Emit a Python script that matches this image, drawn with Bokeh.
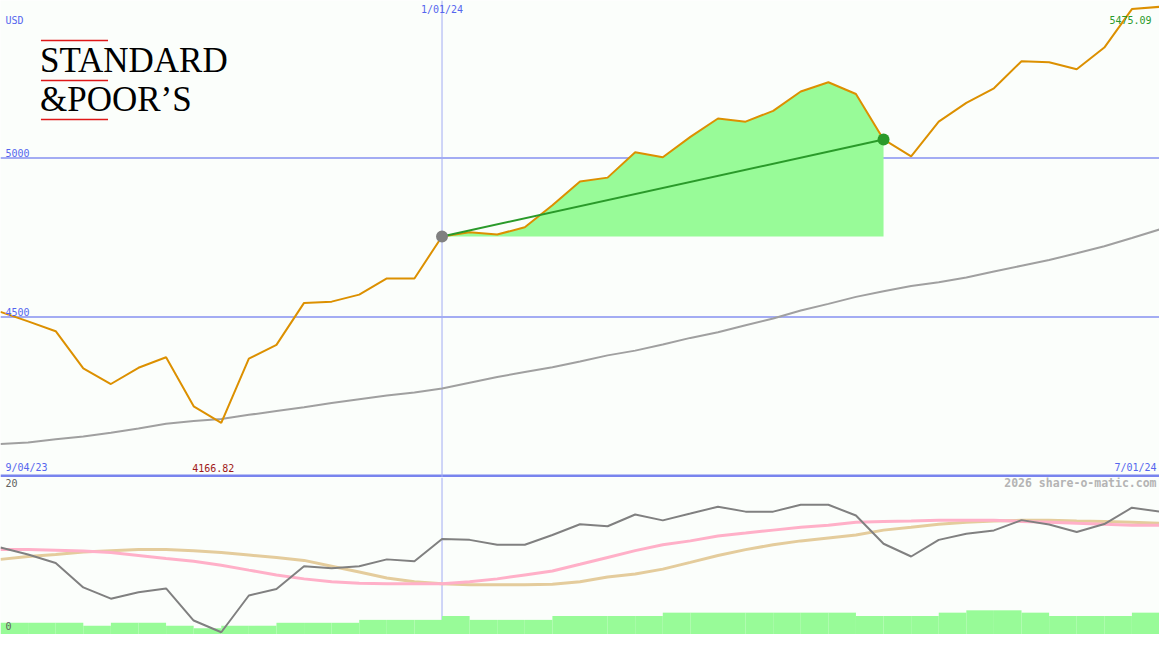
from bokeh.plotting import figure
from bokeh.models import Range1d, Span, Label
from bokeh.layouts import column
from bokeh.embed import file_html
from bokeh.resources import INLINE

# ---------------- data (weekly) ----------------
weeks = list(range(43))
close = [4516, 4486, 4455, 4338, 4289, 4340, 4373, 4219, 4166.82, 4369,
         4412, 4544, 4548, 4570, 4621, 4621, 4753, 4766, 4759, 4782,
         4851, 4926, 4938, 5018, 5002, 5066, 5124, 5114, 5148, 5209,
         5238, 5201, 5058, 5005, 5114, 5173, 5219, 5304, 5301, 5279,
         5347, 5468, 5475.09]
ma_long = [4100, 4105, 4115, 4124, 4136, 4149, 4164, 4173, 4179, 4192,
           4204, 4216, 4229, 4241, 4253, 4262, 4275, 4293, 4311, 4327,
           4342, 4360, 4379, 4394, 4413, 4434, 4452, 4474, 4495, 4520,
           4541, 4563, 4581, 4597, 4609, 4624, 4643, 4661, 4679, 4700,
           4722, 4748, 4775]
osc = [11.16, 10.25, 9.16, 6.04, 4.59, 5.41, 5.91, 1.79, 0.29, 5.0,
       5.84, 8.75, 8.5, 8.75, 9.63, 9.38, 12.25, 12.13, 11.5, 11.5,
       12.75, 14.13, 13.88, 15.38, 14.63, 15.5, 16.38, 15.75, 15.75, 16.63,
       16.63, 15.25, 11.63, 10.0, 12.13, 12.91, 13.34, 14.66, 14.09, 13.13,
       14.16, 16.25, 15.75]
osc_fast = [10.88, 10.88, 10.81, 10.69, 10.5, 10.13, 9.75, 9.38, 8.88, 8.25,
            7.63, 7.13, 6.75, 6.56, 6.5, 6.5, 6.5, 6.75, 7.13, 7.63,
            8.13, 9.0, 9.88, 10.75, 11.5, 12.0, 12.63, 13.0, 13.38, 13.75,
            14.0, 14.38, 14.5, 14.56, 14.63, 14.63, 14.63, 14.5, 14.38, 14.25,
            14.13, 14.0, 14.0]
osc_slow = [9.63, 10.0, 10.25, 10.56, 10.75, 10.88, 10.88, 10.75, 10.5, 10.19,
            9.88, 9.5, 8.75, 8.0, 7.25, 6.75, 6.5, 6.38, 6.38, 6.38,
            6.44, 6.75, 7.38, 7.75, 8.38, 9.25, 10.13, 10.88, 11.5, 12.0,
            12.38, 12.75, 13.38, 13.75, 14.13, 14.38, 14.56, 14.63, 14.63, 14.56,
            14.5, 14.38, 14.25]
volume = [1.5, 1.5, 1.5, 1.125, 1.5, 1.5, 1.125, 0.8, 1.125, 1.125,
          1.5, 1.5, 1.5, 1.875, 1.875, 1.875, 2.375, 1.875, 1.875, 1.875,
          2.375, 2.375, 2.375, 2.375, 2.8, 2.8, 2.8, 2.8, 2.8, 2.8,
          2.8, 2.375, 2.375, 2.375, 2.8, 3.1, 3.1, 2.8, 2.375, 2.375,
          2.375, 2.8]
date_labels = ["9/04/23", "1/01/24", "7/01/24"]
date_idx = [0, 16, 42]
price_ticks = [5000, 4500]
price_floor = 4000
start_i, end_i = 16, 32

# ---------------- layout helpers ----------------
W, H1, H2 = 1159, 477, 157
REF_W, REF_H1, REF_H2 = 1175, 489, 161
X0, X1 = 0, 42
Y_BOT, Y_TOP = 3995, 5495
L_BOT, L_TOP = 0, 20.125


def rx(px):
    return X0 + px / REF_W * (X1 - X0)


def ry(py):
    return Y_TOP - py / REF_H1 * (Y_TOP - Y_BOT)


def rl(py):
    return L_TOP - (py - REF_H1) / REF_H2 * (L_TOP - L_BOT)


BG = "#fbfefb"
TXT_BLUE = "#5566ee"
GRID = "#a3acf3"
SEP = "#7884ee"
ORANGE = "#dc9000"
GREEN = "#2a9a2a"
FILL = "#98fb98"
MONO = "DejaVu Sans Mono"

common = dict(output_backend="svg", toolbar_location=None,
              x_axis_location=None, y_axis_location=None, min_border=0,
              background_fill_color=BG, border_fill_color=BG,
              outline_line_color=None)

# ---------------- price panel ----------------
p1 = figure(width=W, height=H1, x_range=Range1d(X0, X1),
            y_range=Range1d(Y_BOT, Y_TOP), **common)
p1.xgrid.visible = False
p1.ygrid.visible = False

for t in price_ticks:
    p1.add_layout(Span(location=t, dimension="width", line_color=GRID,
                       line_width=2, level="underlay"))
p1.add_layout(Span(location=price_floor, dimension="width", line_color=SEP,
                   line_width=3, level="underlay"))
p1.add_layout(Span(location=date_idx[1], dimension="height", line_color=GRID,
                   line_width=1, level="underlay"))

seg_x = weeks[start_i:end_i + 1]
seg_y = close[start_i:end_i + 1]
p1.varea(x=seg_x, y1=[close[start_i]] * len(seg_x), y2=seg_y, fill_color=FILL)
p1.line(weeks, ma_long, line_color="#a0a0a0", line_width=2)
p1.line(weeks, close, line_color=ORANGE, line_width=2)
p1.line([start_i, end_i], [close[start_i], close[end_i]], line_color=GREEN,
        line_width=2)
p1.scatter([start_i], [close[start_i]], size=12, fill_color="#808080",
           line_color=None)
p1.scatter([end_i], [close[end_i]], size=12, fill_color=GREEN,
           line_color=None)

# logo
for py in (41, 82, 122):
    p1.segment(x0=[rx(41)], y0=[ry(py)], x1=[rx(109)], y1=[ry(py)],
               line_color="#e01818", line_width=1.5)
p1.add_layout(Label(x=rx(40), y=ry(62), text="STANDARD",
                    text_font="Liberation Serif", text_font_size="35px",
                    text_color="#000000", text_baseline="middle"))
p1.add_layout(Label(x=rx(40), y=ry(101), text="&POOR\u2019S",
                    text_font="Liberation Serif", text_font_size="35px",
                    text_color="#000000", text_baseline="middle"))

lbl = dict(text_font=MONO, text_font_size="10px")
p1.add_layout(Label(x=rx(5), y=ry(20), text="USD", text_color=TXT_BLUE,
                    text_baseline="middle", **lbl))
for t in price_ticks:
    p1.add_layout(Label(x=rx(5), y=t, y_offset=1, text=str(t),
                        text_color=TXT_BLUE, text_baseline="bottom", **lbl))
p1.add_layout(Label(x=date_idx[1], y=ry(9), text=date_labels[1],
                    text_color=TXT_BLUE, text_align="center",
                    text_baseline="middle", **lbl))
p1.add_layout(Label(x=rx(5), y=ry(479), text=date_labels[0],
                    text_color=TXT_BLUE, text_baseline="middle", **lbl))
p1.add_layout(Label(x=rx(1172), y=ry(479), text=date_labels[2],
                    text_color=TXT_BLUE, text_align="right",
                    text_baseline="middle", **lbl))
imin = close.index(min(close))
p1.add_layout(Label(x=imin, x_offset=-8, y=ry(479), text=f"{min(close):.2f}",
                    text_color="#a01818", text_align="center",
                    text_baseline="middle", **lbl))
p1.add_layout(Label(x=rx(1167), y=ry(20), text=f"{close[-1]:.2f}",
                    text_color=GREEN, text_align="right",
                    text_baseline="middle", **lbl))

# ---------------- indicator panel ----------------
p2 = figure(width=W, height=H2, x_range=p1.x_range,
            y_range=Range1d(L_BOT, L_TOP), **common)
p2.xgrid.visible = False
p2.ygrid.visible = False
p2.add_layout(Span(location=date_idx[1], dimension="height", line_color=GRID,
                   line_width=1, level="underlay"))
p2.quad(left=weeks[:-1], right=weeks[1:], bottom=[0] * len(volume),
        top=volume, fill_color=FILL, line_color=None)
p2.line(weeks, osc_slow, line_color="#e4cc9c", line_width=3)
p2.line(weeks, osc_fast, line_color="#ffb0c8", line_width=3)
p2.line(weeks, osc, line_color="#808080", line_width=2)

p2.add_layout(Label(x=rx(5), y=rl(495), text="20", text_color="#606060",
                    text_baseline="middle", **lbl))
p2.add_layout(Label(x=rx(5), y=rl(641), text="0", text_color="#606060",
                    text_baseline="middle", **lbl))
p2.add_layout(Label(x=rx(1172), y=rl(495), text="2026 share-o-matic.com",
                    text_color="#b4b4b4", text_align="right",
                    text_baseline="middle", text_font=MONO,
                    text_font_size="11.5px", text_font_style="bold"))

layout = column(p1, p2, spacing=0)
open("out.html", "w").write(file_html(layout, INLINE))
